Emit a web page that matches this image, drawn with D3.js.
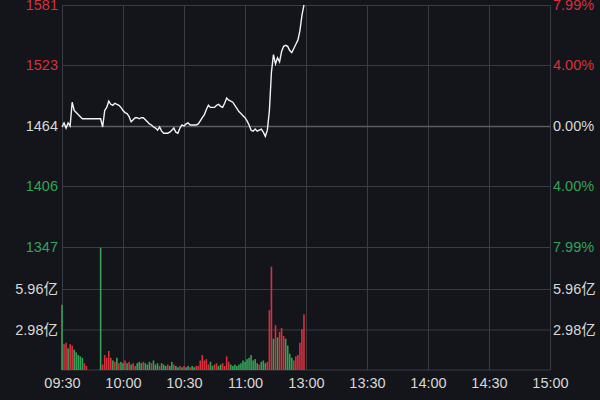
<!DOCTYPE html>
<html><head><meta charset="utf-8">
<script src="https://cdn.jsdelivr.net/npm/d3@7"></script>
<style>
html,body{margin:0;padding:0;background:#13151b;}
svg{display:block;}
</style></head>
<body>
<svg id="c" width="600" height="400"></svg>
<script>
// ---- data ----
const timeLabels = ["09:30","10:00","10:30","11:00","13:00","13:30","14:00","14:30","15:00"];
const priceTicks = [1581,1523,1464,1406,1347];
const pctLabels = ["7.99%","4.00%","0.00%","4.00%","7.99%"];
const volTicks = [2.98,5.96];
const volTickLabels = ["2.98亿","5.96亿"];
// minute index from 09:30 and price
const priceMinutes = [0,1,2,3,4,5,6,7,9,10,19,20,21,22,23,24,25,26,27,28,29,30,31,32,33,34,35,36,37,38,39,40,41,42,43,44,45,46,47,48,49,50,51,52,53,54,55,56,57,58,59,60,61,62,63,64,65,66,67,68,69,70,71,72,73,74,75,76,77,78,79,80,81,82,83,84,85,86,87,88,89,90,91,92,93,94,95,96,97,98,99,100,101,102,103,104,105,106,107,108,109,110,111,112,113,114,115,116,117,118,119];
const prices = [1463,1467,1462,1467,1464,1487,1479,1477,1473,1471,1471,1463,1479,1482,1488,1485,1484,1486,1485,1484,1482,1479,1477,1476,1473,1468,1470,1472,1472,1471,1472,1472,1470,1468,1466,1465,1463,1462,1460,1463,1459,1457,1457,1457,1458,1460,1462,1458,1457,1462,1465,1464,1466,1467,1465,1465,1465,1465,1466,1469,1472,1475,1480,1484,1482,1482,1482,1484,1485,1483,1482,1486,1491,1489,1488,1487,1484,1481,1478,1476,1474,1472,1469,1465,1460,1459,1461,1459,1460,1461,1458,1454,1460,1479,1516,1533,1524,1530,1526,1536,1541,1542,1541,1537,1535,1539,1543,1547,1556,1571,1581];
// volume per minute (亿) and colour (r = up, g = down, 0 = none)
const volumes = [4.8,1.9,2.0,1.6,1.9,1.8,1.5,1.3,1.1,1.0,0.9,0.5,0.3,0,0,0,0,0,0,9.0,0.4,1.1,0.9,1.4,0.9,0.7,0.6,0.9,0.5,0.6,0.5,0.7,0.5,0.6,0.4,0.5,0.3,0.5,0.6,0.5,0.6,0.5,0.4,0.6,0.5,0.7,0.4,0.5,0.3,0.5,0.4,0.3,0.4,0.3,0.6,0.4,0.3,0.2,0.3,0.2,0.3,0.2,0.3,0.2,0.3,0.2,0.3,0.3,0.7,1.1,0.7,0.8,0.4,0.6,0.3,0.4,0.5,0.3,0.4,0.5,0.3,1.0,0.6,0.4,0.3,0.4,0.3,0.4,0.5,0.7,0.6,0.8,0.9,1.1,0.7,0.8,0.5,0.4,0.6,0.7,0.5,0.6,4.4,7.6,2.3,3.3,2.4,2.8,3.1,2.5,2.3,1.8,1.2,0.9,0.7,1.0,1.1,2.0,3.0,4.1];
const volDirs = ("g"+"rr"+"g"+"rr"+"ggggg"+"rr"+"000000"+"g"+"rrrrr"+"g"+"r"+"g"+"r"+"gg"+"r"+"g"+"r"+"g"+"rr"+"ggg"+"r"+"ggg"+"r"+"ggg"+"r"+"ggg"+"r"+"gg"+"r"+"gg"+"r"+"g"+"r"+"gg"+"r"+"gg"+"rrrrrrr"+"gg"+"rr"+"gg"+"rrrr"+"gggggggggggggg"+"r"+"ggg"+"rrr"+"g"+"r"+"g"+"rrr"+"gggg"+"rrrrrr").split("");

// ---- layout ----
const svg = d3.select("#c");
const L = 62, R = 550, TOP = 5, MID = 247, BOT = 370;
const RED = "#d8303c", GREEN = "#35a257", GRID = "#3a3d45", ZERO = "#595c62", TXT = "#d8d8d8";
const font = "Liberation Sans, Arial, 'Noto Sans CJK SC', sans-serif";
const FS = "14.5px";

const x = d3.scaleLinear().domain([0,240]).range([L,R]);
const yP = d3.scaleLinear().domain([1347,1581]).range([MID,TOP]);
const yV = d3.scaleLinear().domain([0,9.05]).range([BOT,MID]);

// vertical grid + time labels
const xAxis = d3.axisBottom(x).tickValues(d3.range(0,241,30))
  .tickFormat((d,i)=>timeLabels[i]).tickSize(-(BOT-TOP)).tickPadding(8);
const gx = svg.append("g").attr("transform",`translate(0,${BOT})`).call(xAxis);
gx.select(".domain").remove();
gx.selectAll("line").attr("stroke",GRID);
gx.selectAll("text").attr("fill",TXT).style("font-family",font).style("font-size",FS);

// price grid + left labels
const pAxis = d3.axisLeft(yP).tickValues(priceTicks).tickFormat(d=>d).tickSize(-(R-L)).tickPadding(4);
const gp = svg.append("g").attr("transform",`translate(${L},0)`).call(pAxis);
gp.select(".domain").remove();
gp.selectAll("line").attr("stroke",d=> d===1464 ? ZERO : GRID).attr("stroke-width",d=> d===1464 ? 1.6 : 1);
gp.selectAll("text").style("font-family",font).style("font-size",FS)
  .attr("fill",d=> d>1464 ? RED : d<1464 ? GREEN : TXT);

// right pct labels
const rAxis = d3.axisRight(yP).tickValues(priceTicks).tickFormat((d,i)=>pctLabels[i]).tickSize(0).tickPadding(3);
const gr = svg.append("g").attr("transform",`translate(${R},0)`).call(rAxis);
gr.select(".domain").remove();
gr.selectAll("text").style("font-family",font).style("font-size",FS)
  .attr("fill",d=> d>1464 ? RED : d<1464 ? GREEN : TXT);

// volume grid + labels
const vAxisL = d3.axisLeft(yV).tickValues(volTicks).tickFormat((d,i)=>volTickLabels[i]).tickSize(-(R-L)).tickPadding(4);
const gvl = svg.append("g").attr("transform",`translate(${L},0)`).call(vAxisL);
gvl.select(".domain").remove();
gvl.selectAll("line").attr("stroke",GRID);
gvl.selectAll("text").attr("fill",TXT).style("font-family",font).style("font-size",FS);
const vAxisR = d3.axisRight(yV).tickValues(volTicks).tickFormat((d,i)=>volTickLabels[i]).tickSize(0).tickPadding(3);
const gvr = svg.append("g").attr("transform",`translate(${R},0)`).call(vAxisR);
gvr.select(".domain").remove();
gvr.selectAll("text").attr("fill",TXT).style("font-family",font).style("font-size",FS);

// baseline
svg.append("line").attr("x1",L).attr("x2",R).attr("y1",yV(0)).attr("y2",yV(0)).attr("stroke",GRID);

// volume bars
svg.append("g").selectAll("rect").data(volumes).join("rect")
  .attr("x",(d,i)=>x(i)-0.8).attr("width",1.6)
  .attr("y",d=>yV(d)).attr("height",d=>yV(0)-yV(d))
  .attr("fill",(d,i)=> volDirs[i]==="r" ? RED : GREEN);

// price line
const pts = priceMinutes.map((m,i)=>[m,prices[i]]);
svg.append("path").datum(pts)
  .attr("fill","none").attr("stroke","#f2f2f2").attr("stroke-width",1.4)
  .attr("d",d3.line().x(d=>x(d[0])).y(d=>yP(d[1])));
</script>
</body></html>
